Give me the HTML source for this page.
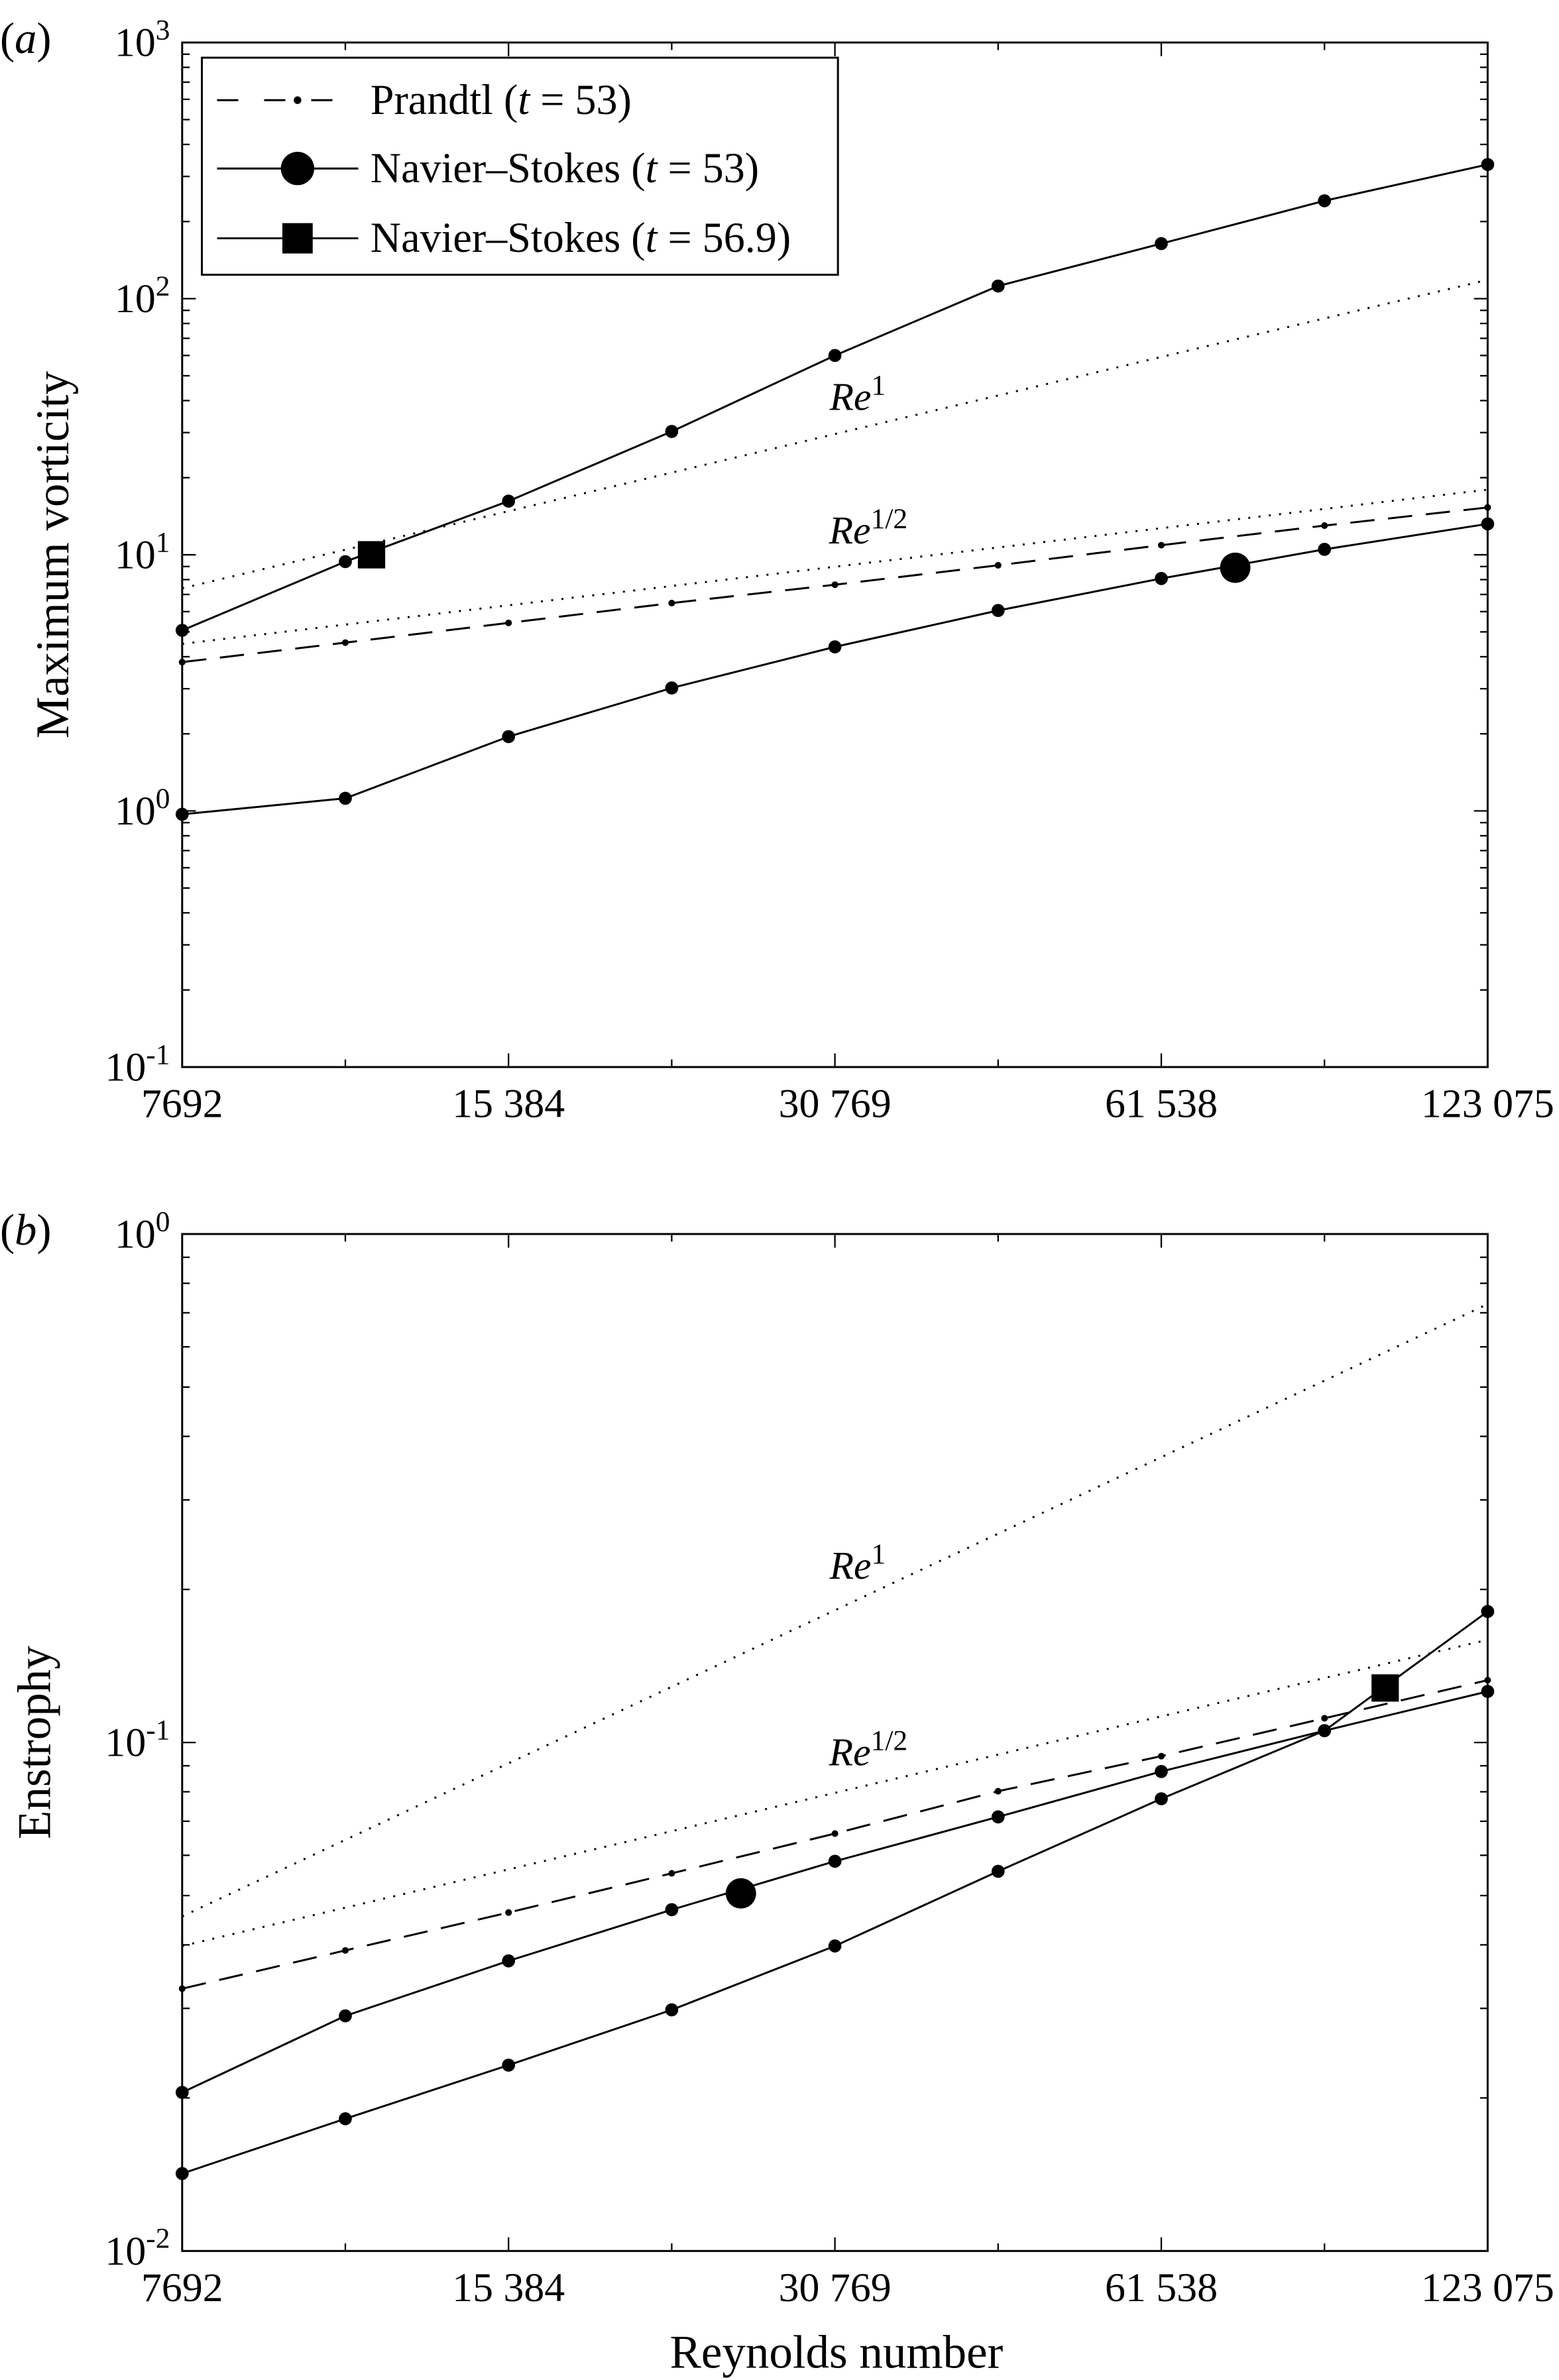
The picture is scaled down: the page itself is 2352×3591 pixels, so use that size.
<!DOCTYPE html>
<html><head><meta charset="utf-8"><style>
html,body{margin:0;padding:0;background:#fff;}
svg{display:block;}
text{font-family:"Liberation Serif",serif;fill:#000;}
</style></head><body>
<svg id="fig" xmlns="http://www.w3.org/2000/svg" width="2352" height="3591" viewBox="0 0 1027 1568">
<rect x="0" y="0" width="1027" height="1568" fill="#fff"/>
</svg>
<script>
// x categories (Reynolds numbers)
const reynolds = [7692, 10878, 15384, 21756, 30769, 43513, 61538, 87027, 123075];
const xTickLabels = ["7692", "15 384", "30 769", "61 538", "123 075"];
const xTickValues = [7692, 15384, 30769, 61538, 123075];
// panel (a) data
const vortNSUpper = [5.07, 9.4, 16.2, 30.3, 60, 112, 164, 241, 334];
const vortNSLower = [0.97, 1.12, 1.95, 3.02, 4.37, 6.06, 8.08, 10.5, 13.2];
const vortPrandtl = [3.81, 4.54, 5.42, 6.48, 7.64, 9.1, 10.9, 13.0, 15.3];
const vortCircle = [72000, 8.9];
const vortSquare = [11500, 10.0];
const vortRe1Start = 7.4;
const vortReHalfStart = 4.49;
// panel (b) data
const ensPrandtl = [0.0328, 0.039, 0.0463, 0.0553, 0.0662, 0.0802, 0.094, 0.1116, 0.1326];
const ensNSUpper = [0.0205, 0.029, 0.0372, 0.0469, 0.0584, 0.0714, 0.0877, 0.1055, 0.126];
const ensNSLower = [0.0142, 0.0182, 0.0232, 0.0298, 0.0398, 0.0558, 0.0775, 0.1055, 0.181];
const ensCircle = [25200, 0.0505];
const ensSquare = [99000, 0.128];
const ensRe1Start = 0.0455;
const ensReHalfStart = 0.0398;

const NS = "http://www.w3.org/2000/svg";
const svg = document.getElementById('fig');
function el(tag, attrs, parent){
  const e = document.createElementNS(NS, tag);
  for (const k in attrs) e.setAttribute(k, attrs[k]);
  (parent||svg).appendChild(e);
  return e;
}
const L = 120, R = 980;
function xs(v){ return L + (R-L)*Math.log(v/7692)/Math.log(16); }

function panel(cfg){
  const g = el('g', {});
  
  
  const T = cfg.top, B = cfg.bottom, d0 = cfg.dmin, d1 = cfg.dmax;
  const ys = v => B - (B-T)*(Math.log10(v)-d0)/(d1-d0);
  for (let d = d0; d <= d1; d++){
    for (let m = 1; m <= 9; m++){
      if (d === d1 && m > 1) break;
      const y = ys(m*Math.pow(10,d));
      const len = m===1 ? 9 : 5;
      el('line',{x1:L,y1:y,x2:L+len,y2:y,stroke:'#000','stroke-width':1},g);
      el('line',{x1:R,y1:y,x2:R-len,y2:y,stroke:'#000','stroke-width':1},g);
    }
    const t = el('text',{x:L-8,y:ys(Math.pow(10,d))+9,'text-anchor':'end','font-size':27},g);
    
    
    t.innerHTML = '10<tspan dy="-11" font-size="19">'+d+'</tspan>';
  }
  reynolds.forEach((r,i)=>{
    const x = xs(r), len = i%2===0 ? 9 : 5;
    el('line',{x1:x,y1:B,x2:x,y2:B-len,stroke:'#000','stroke-width':1},g);
    el('line',{x1:x,y1:T,x2:x,y2:T+len,stroke:'#000','stroke-width':1},g);
  });
  xTickValues.forEach((v,i)=>{
    const t = el('text',{x:xs(v),y:B+33,'text-anchor':'middle','font-size':27},g);
    
    
    t.textContent = xTickLabels[i];
  });
  [[cfg.re1,1,'re1-guide'],[cfg.reh,0.5,'re-half-guide']].forEach(([s,p,n])=>{
    const ln = el('line',{x1:xs(7692),y1:ys(s),x2:xs(123075),y2:ys(s*Math.pow(16,p)),stroke:'#000','stroke-width':1.3,'stroke-dasharray':'1.3 5.5'},g);
    
    
  });
  const path = (vals,dash,name,r)=>{
    const pts = vals.map((v,i)=>xs(reynolds[i]).toFixed(2)+','+ys(v).toFixed(2)).join(' ');
    const pl = el('polyline',{points:pts,fill:'none',stroke:'#000','stroke-width':1.3},g);
    if (dash) pl.setAttribute('stroke-dasharray',dash);
    
    
    vals.forEach((v,i)=>{
      const c = el('circle',{cx:xs(reynolds[i]),cy:ys(v),r:r,fill:'#000'},g);
      
      
    });
  };
  path(cfg.p,'16 9','prandtl-line',2.2);
  path(cfg.u,null,'navier-stokes-upper',4.3);
  path(cfg.l,null,'navier-stokes-lower',4.3);
  const c = el('circle',{cx:xs(cfg.circ[0]),cy:ys(cfg.circ[1]),r:10,fill:'#000'},g);
  
  
  const s = el('rect',{x:xs(cfg.sq[0])-9,y:ys(cfg.sq[1])-9,width:18,height:18,fill:'#000'},g);
  
  
  [[cfg.l1,'Re','1','re1-label'],[cfg.l2,'Re','1/2','re-half-label']].forEach(([p,a,b,n])=>{
    const t = el('text',{x:p[0],y:p[1],'font-size':26,'text-anchor':'middle'},g);
    
    
    t.innerHTML = '<tspan font-style="italic">'+a+'</tspan><tspan dy="-10" font-size="19">'+b+'</tspan>';
  });
  const fr = el('rect',{x:L,y:T,width:R-L,height:B-T,fill:'none',stroke:'#000','stroke-width':1.3},g);
  
  
  const yl = el('text',{x:0,y:0,'font-size':31,'text-anchor':'middle',transform:'translate('+cfg.ylx+','+(T+B)/2+') rotate(-90)'},g);
  
  
  yl.textContent = cfg.ylabel;
  const pl = el('text',{x:0,y:T+7,'font-size':29},g);
  
  
  pl.innerHTML = '(<tspan font-style="italic">'+cfg.letter+'</tspan>)';
  return g;
}
panel({name:'panel-a',top:28,bottom:703,dmin:-1,dmax:3,re1:vortRe1Start,reh:vortReHalfStart,p:vortPrandtl,u:vortNSUpper,l:vortNSLower,circ:vortCircle,sq:vortSquare,l1:[565,270],l2:[572,358],ylabel:'Maximum vorticity',ylx:45,letter:'a'});
panel({name:'panel-b',top:813,bottom:1483,dmin:-2,dmax:0,re1:ensRe1Start,reh:ensReHalfStart,p:ensPrandtl,u:ensNSUpper,l:ensNSLower,circ:ensCircle,sq:ensSquare,l1:[565,1040],l2:[572,1163],ylabel:'Enstrophy',ylx:33,letter:'b'});

const xt = el('text',{x:551,y:1560,'font-size':31,'text-anchor':'middle'});


xt.textContent = 'Reynolds number';

const lg = el('g',{});


el('rect',{x:133,y:38,width:419,height:143,fill:'#fff',stroke:'#000','stroke-width':1.3},lg);
const entries = [['Prandtl (','t',' = 53)','p',66],['Navier–Stokes (','t',' = 53)','c',111],['Navier–Stokes (','t',' = 56.9)','s',157]];
entries.forEach(e=>{
  const y = e[4];
  const ln = el('line',{x1:143,y1:y,x2:236,y2:y,stroke:'#000','stroke-width':1.3},lg);
  if (e[3]==='p') ln.setAttribute('stroke-dasharray','14 17');
  if (e[3]==='p') el('circle',{cx:196,cy:y,r:2.5,fill:'#000'},lg);
  if (e[3]==='c') el('circle',{cx:196,cy:y,r:11,fill:'#000'},lg);
  if (e[3]==='s') el('rect',{x:186,y:y-10,width:20,height:20,fill:'#000'},lg);
  const t = el('text',{x:244,y:y+9,'font-size':28},lg);
  
  
  t.innerHTML = e[0]+'<tspan font-style="italic">'+e[1]+'</tspan>'+e[2];
});
</script>
</body></html>
